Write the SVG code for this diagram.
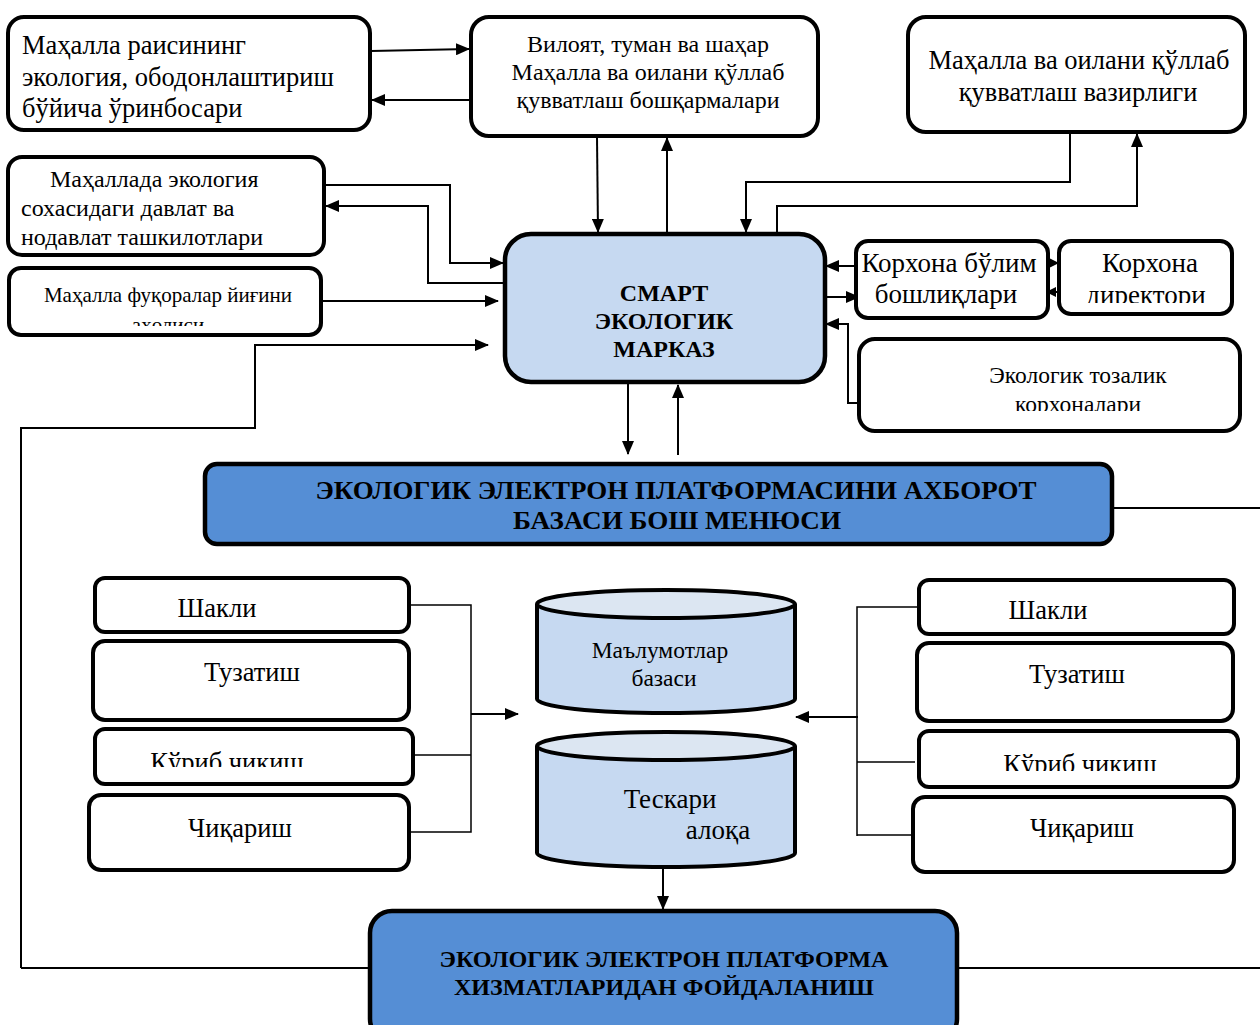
<svg xmlns="http://www.w3.org/2000/svg" width="1260" height="1025" viewBox="0 0 1260 1025">
<style>
.box{fill:#fff;stroke:#000;stroke-width:4}
.lb{fill:#c6d9f1;stroke:#000;stroke-width:4.5}
.db{fill:#558ed5;stroke:#000;stroke-width:4.5}
.t{font-family:"Liberation Serif","Times New Roman",serif;fill:#000}
.c{text-anchor:middle}
.b{font-weight:bold}
.ln{fill:none;stroke:#000;stroke-width:2}
.th{fill:none;stroke:#000;stroke-width:1.5}
.s{font-size:26.5px}
</style>
<defs>
<marker id="ah" markerUnits="userSpaceOnUse" markerWidth="14" markerHeight="12" refX="13" refY="6" orient="auto">
<path d="M0,0 L14,6 L0,12 z" fill="#000"/>
</marker>
<marker id="as" markerUnits="userSpaceOnUse" markerWidth="10" markerHeight="10" refX="9" refY="5" orient="auto">
<path d="M0,0 L10,5 L0,10 z" fill="#000"/>
</marker>
<clipPath id="c5"><rect x="11" y="270" width="308" height="56"/></clipPath>
<clipPath id="c9"><rect x="1061" y="243" width="169" height="60"/></clipPath>
<clipPath id="c10"><rect x="861" y="341" width="377" height="70"/></clipPath>
<clipPath id="cl3"><rect x="97" y="731" width="314" height="36"/></clipPath>
<clipPath id="cr3"><rect x="921" y="733" width="315" height="38"/></clipPath>
</defs>

<g id="connectors">
<line class="ln" x1="371" y1="51" x2="469" y2="49" marker-end="url(#ah)"/>
<line class="ln" x1="470" y1="100" x2="372" y2="100" marker-end="url(#ah)"/>
<line class="ln" x1="597" y1="137" x2="598" y2="232" marker-end="url(#ah)"/>
<line class="ln" x1="667" y1="234" x2="667" y2="138" marker-end="url(#ah)"/>
<polyline class="ln" points="1070,133 1070,182 746,182 746,232" marker-end="url(#ah)"/>
<polyline class="ln" points="777,234 777,206 1137,206 1137,134" marker-end="url(#ah)"/>
<polyline class="ln" points="324,185 450,185 450,263 503,263" marker-end="url(#ah)"/>
<polyline class="ln" points="505,283 428,283 428,206 326,206" marker-end="url(#ah)"/>
<line class="ln" x1="321" y1="301" x2="498" y2="301" marker-end="url(#ah)"/>
<polyline class="ln" points="21,968 21,428 255,428 255,345 488,345" marker-end="url(#ah)"/>
<line class="ln" x1="21" y1="968" x2="370" y2="968"/>
<line class="ln" x1="957" y1="968" x2="1260" y2="968"/>
<line class="ln" x1="1112" y1="508" x2="1260" y2="508"/>
<line class="ln" x1="856" y1="266" x2="826" y2="266" marker-end="url(#ah)"/>
<line class="ln" x1="826" y1="297" x2="859" y2="297" marker-end="url(#ah)"/>
<line class="ln" x1="1046" y1="263" x2="1058" y2="263" marker-end="url(#as)"/>
<line class="ln" x1="1060" y1="292" x2="1047" y2="292" marker-end="url(#as)"/>
<polyline class="ln" points="859,403 848,403 848,324 826,324" marker-end="url(#ah)"/>
<line class="ln" x1="628" y1="383" x2="628" y2="454" marker-end="url(#ah)"/>
<line class="ln" x1="678" y1="455" x2="678" y2="385" marker-end="url(#ah)"/>
<polyline class="th" points="409,605 471,605 471,832 409,832"/>
<line class="th" x1="408" y1="755" x2="471" y2="755"/>
<line class="ln" x1="471" y1="714" x2="518" y2="714" marker-end="url(#ah)"/>
<polyline class="th" points="918,607 857,607 857,836"/>
<line class="th" x1="857" y1="762" x2="915" y2="762"/>
<line class="th" x1="857" y1="835" x2="913" y2="835"/>
<line class="ln" x1="858" y1="717" x2="796" y2="717" marker-end="url(#ah)"/>
<line class="ln" x1="663" y1="868" x2="663" y2="909" marker-end="url(#ah)"/>
</g>

<g id="n1">
<rect class="box" x="8" y="17" width="362" height="113" rx="16"/>
<text class="t" font-size="26.5" x="22" y="54">Маҳалла раисининг</text>
<text class="t" font-size="26.5" x="22" y="86">экология, ободонлаштириш</text>
<text class="t" font-size="26.5" x="22" y="117">бўйича ўринбосари</text>
</g>
<g id="n2">
<rect class="box" x="471" y="17" width="347" height="119" rx="18"/>
<text class="t c" font-size="24" x="648" y="52">Вилоят, туман ва шаҳар</text>
<text class="t c" font-size="24" x="648" y="80">Маҳалла ва оилани қўллаб</text>
<text class="t c" font-size="24" x="648" y="108">қувватлаш  бошқармалари</text>
</g>
<g id="n3">
<rect class="box" x="908" y="17" width="337" height="115" rx="18"/>
<text class="t c" font-size="26.5" x="1079" y="69">Маҳалла ва оилани қўллаб</text>
<text class="t c" font-size="26.5" x="1078" y="101">қувватлаш вазирлиги</text>
</g>
<g id="n4">
<rect class="box" x="8" y="157" width="316" height="98" rx="14"/>
<text class="t" font-size="24" x="50" y="187">Маҳаллада экология</text>
<text class="t" font-size="24" x="21" y="216">сохасидаги давлат ва</text>
<text class="t" font-size="24" x="21" y="245">нодавлат ташкилотлари</text>
</g>
<g id="n5">
<rect class="box" x="9" y="268" width="312" height="67" rx="12"/>
<text class="t c" font-size="21" x="168" y="302">Маҳалла фуқоралар йиғини</text>
<g clip-path="url(#c5)"><text class="t c" font-size="21" x="168" y="332">аҳолиси</text></g>
</g>
<g id="n6">
<rect class="lb" x="505" y="234" width="320" height="148" rx="26"/>
<text class="t c b" font-size="24" x="664" y="301">СМАРТ</text>
<text class="t c b" font-size="24" x="664" y="329">ЭКОЛОГИК</text>
<text class="t c b" font-size="24" x="664" y="357">МАРКАЗ</text>
</g>
<g id="n7">
<rect class="box" x="856" y="241" width="192" height="77" rx="12"/>
<text class="t c" font-size="27" x="949" y="272">Корхона бўлим</text>
<text class="t c" font-size="27" x="946" y="303">бошлиқлари</text>
</g>
<g id="n8">
<rect class="box" x="1059" y="241" width="173" height="73" rx="12"/>
<text class="t c" font-size="27" x="1150" y="272">Корхона</text>
<g clip-path="url(#c9)"><text class="t c" font-size="27" x="1146" y="304">директори</text></g>
</g>
<g id="n9">
<rect class="box" x="859" y="339" width="381" height="92" rx="16"/>
<text class="t c" font-size="23.5" x="1078" y="383">Экологик тозалик</text>
<g clip-path="url(#c10)"><text class="t c" font-size="23.5" x="1078" y="412">корхоналари</text></g>
</g>
<g id="n10">
<rect class="db" x="205" y="464" width="907" height="80" rx="12"/>
<text class="t c b" font-size="25" x="676" y="499" textLength="721" lengthAdjust="spacingAndGlyphs">ЭКОЛОГИК ЭЛЕКТРОН ПЛАТФОРМАСИНИ АХБОРОТ</text>
<text class="t c b" font-size="25" x="677" y="529" textLength="328" lengthAdjust="spacingAndGlyphs">БАЗАСИ  БОШ МЕНЮСИ</text>
</g>
<g id="l1">
<rect class="box" x="95" y="578" width="314" height="54" rx="10"/>
<text class="t c s" x="217" y="617">Шакли</text>
</g>
<g id="l2">
<rect class="box" x="93" y="641" width="316" height="79" rx="12"/>
<text class="t c s" x="252" y="681">Тузатиш</text>
</g>
<g id="l3">
<rect class="box" x="95" y="729" width="318" height="55" rx="10"/>
<g clip-path="url(#cl3)"><text class="t c s" x="227" y="771">Кўриб чикиш</text></g>
</g>
<g id="l4">
<rect class="box" x="89" y="795" width="320" height="75" rx="12"/>
<text class="t c s" x="240" y="837">Чиқариш</text>
</g>
<g id="db1">
<path d="M537,604 L537,699 A129,14 0 0 0 795,699 L795,604" fill="#c6d9f1" stroke="#000" stroke-width="4"/>
<ellipse cx="666" cy="604" rx="129" ry="14" fill="#dce6f2" stroke="#000" stroke-width="4"/>
<text class="t c" font-size="23.5" x="660" y="658">Маълумотлар</text>
<text class="t c" font-size="23.5" x="664" y="686">базаси</text>
</g>
<g id="db2">
<path d="M537,746 L537,853 A129,14 0 0 0 795,853 L795,746" fill="#c6d9f1" stroke="#000" stroke-width="4"/>
<ellipse cx="666" cy="746" rx="129" ry="14" fill="#dce6f2" stroke="#000" stroke-width="4"/>
<text class="t c" font-size="27" x="670" y="808">Тескари</text>
<text class="t c" font-size="27" x="718" y="839">алоқа</text>
</g>
<g id="r1">
<rect class="box" x="919" y="580" width="315" height="54" rx="10"/>
<text class="t c s" x="1048" y="619">Шакли</text>
</g>
<g id="r2">
<rect class="box" x="917" y="643" width="316" height="78" rx="12"/>
<text class="t c s" x="1077" y="683">Тузатиш</text>
</g>
<g id="r3">
<rect class="box" x="919" y="731" width="319" height="56" rx="10"/>
<g clip-path="url(#cr3)"><text class="t c s" x="1080" y="773">Кўриб чикиш</text></g>
</g>
<g id="r4">
<rect class="box" x="913" y="797" width="321" height="75" rx="12"/>
<text class="t c s" x="1082" y="837">Чиқариш</text>
</g>
<g id="n11">
<rect class="db" x="370" y="911" width="587" height="130" rx="22"/>
<text class="t c b" font-size="24" x="664" y="967" textLength="449" lengthAdjust="spacingAndGlyphs">ЭКОЛОГИК ЭЛЕКТРОН ПЛАТФОРМА</text>
<text class="t c b" font-size="24" x="664" y="995" textLength="420" lengthAdjust="spacingAndGlyphs">ХИЗМАТЛАРИДАН ФОЙДАЛАНИШ</text>
</g>
</svg>
